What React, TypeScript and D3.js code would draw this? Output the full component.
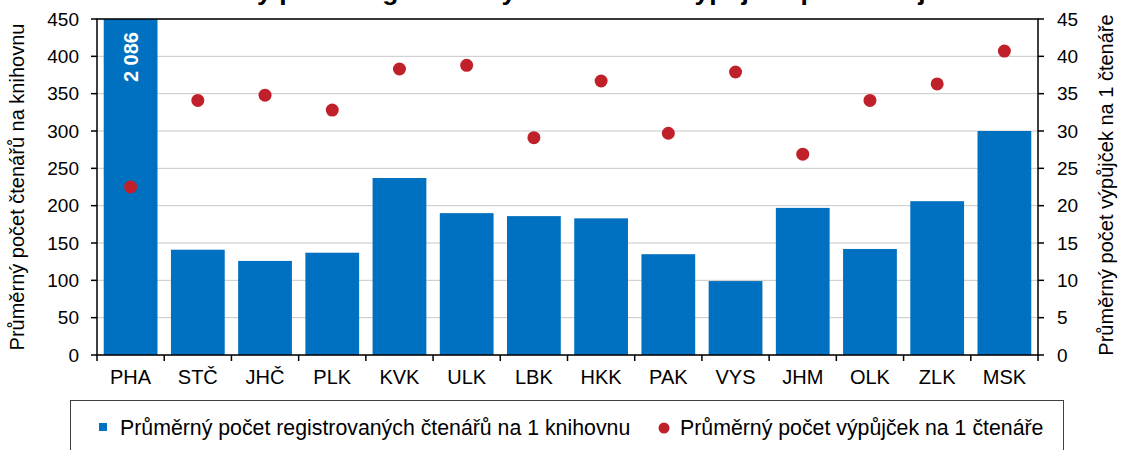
import * as d3 from "d3";

const kraje = ["PHA", "STČ", "JHČ", "PLK", "KVK", "ULK", "LBK", "HKK", "PAK", "VYS", "JHM", "OLK", "ZLK", "MSK"];
const ctenari = [2086, 141, 126, 137, 237, 190, 186, 183, 135, 99, 197, 142, 206, 300];
const vypujcky = [22.5, 34.1, 34.8, 32.8, 38.3, 38.8, 29.1, 36.7, 29.7, 37.9, 26.9, 34.1, 36.3, 40.7];
const leveTicky = [0, 50, 100, 150, 200, 250, 300, 350, 400, 450];
const praveTicky = [0, 5, 10, 15, 20, 25, 30, 35, 40, 45];

const W = 1122, H = 450;
const margin = {top: 19, right: 84, bottom: 95, left: 97};
const font = "'Liberation Sans', Arial, sans-serif";
const modra = "#0070c0";
const cervena = "#c0202a";

export default function App() {
  const x = d3.scaleBand().domain(kraje).range([margin.left, W - margin.right]);
  const y = d3.scaleLinear().domain([0, 450]).range([H - margin.bottom, margin.top]).clamp(true);
  const y2 = d3.scaleLinear().domain([0, 45]).range([H - margin.bottom, margin.top]);
  const x0 = margin.left, x1 = W - margin.right, yb = H - margin.bottom;
  const stred = (k: string) => x(k)! + x.bandwidth() / 2;

  return (
    <svg width={W} height={H} style={{position: "absolute", left: 0, top: 0, fontFamily: font}}>
      <rect width={W} height={H} fill="#fff" />
      {/* titulek je v originále oříznutý nahoře, vidět jsou jen dotahy */}
      <text x={545} y={-0.5} textAnchor="middle" fontSize={26.5} fontWeight="bold">
        Průměrný počet registrovaných čtenářů a výpůjček podle krajů
      </text>

      {/* mřížka */}
      {leveTicky.map(t => (
        <line key={t} x1={x0} x2={x1} y1={y(t)} y2={y(t)} stroke="#c8c8c8" />
      ))}

      {/* sloupce */}
      {kraje.map((k, i) => (
        <rect key={k} x={x(k)! + x.bandwidth() * 0.1} width={x.bandwidth() * 0.8}
              y={y(ctenari[i])} height={yb - y(ctenari[i])} fill={modra} />
      ))}
      {ctenari.map((v, i) => v > 450 ? (
        <text key={i} transform={`translate(${stred(kraje[i])},32) rotate(-90)`}
              textAnchor="end" dominantBaseline="central" fill="#fff" fontWeight="bold" fontSize={20}>
          {d3.format(",")(v).replace(",", " ")}
        </text>
      ) : null)}

      {/* body */}
      {kraje.map((k, i) => (
        <circle key={k} cx={stred(k)} cy={y2(vypujcky[i])} r={6.5} fill={cervena} />
      ))}

      {/* rámeček a osy */}
      <rect x={x0} y={margin.top} width={x1 - x0} height={yb - margin.top} fill="none" stroke="#000" strokeWidth={1.5} />
      {leveTicky.map(t => (
        <g key={t}>
          <line x1={x0 - 6} x2={x0} y1={y(t)} y2={y(t)} stroke="#000" strokeWidth={1.5} />
          <text x={79} y={y(t)} textAnchor="end" dominantBaseline="central" fontSize={19}>{t}</text>
        </g>
      ))}
      {praveTicky.map(t => (
        <g key={t}>
          <line x1={x1} x2={x1 + 6} y1={y2(t)} y2={y2(t)} stroke="#000" strokeWidth={1.5} />
          <text x={1057} y={y2(t)} textAnchor="start" dominantBaseline="central" fontSize={19}>{t}</text>
        </g>
      ))}
      {kraje.map(k => (
        <line key={k} x1={x(k)!} x2={x(k)!} y1={yb} y2={yb + 6} stroke="#000" strokeWidth={1.5} />
      ))}
      <line x1={x1} x2={x1} y1={yb} y2={yb + 6} stroke="#000" strokeWidth={1.5} />
      {kraje.map(k => (
        <text key={k} x={stred(k)} y={384} textAnchor="middle" fontSize={20}>{k}</text>
      ))}

      <text transform={`translate(24,187) rotate(-90)`} textAnchor="middle" fontSize={20}>
        Průměrný počet čtenářů na knihovnu
      </text>
      <text transform={`translate(1113,185) rotate(-90)`} textAnchor="middle" fontSize={20}>
        Průměrný počet výpůjček na 1 čtenáře
      </text>

      {/* legenda */}
      <rect x={70.5} y={400.5} width={993} height={70} fill="none" stroke="#404040" />
      <rect x={99} y={423} width={8} height={8} fill={modra} />
      <text x={120} y={435} fontSize={21.3}>Průměrný počet registrovaných čtenářů na 1 knihovnu</text>
      <circle cx={664} cy={428} r={5.5} fill={cervena} />
      <text x={680} y={435} fontSize={21.3}>Průměrný počet výpůjček na 1 čtenáře</text>
    </svg>
  );
}
